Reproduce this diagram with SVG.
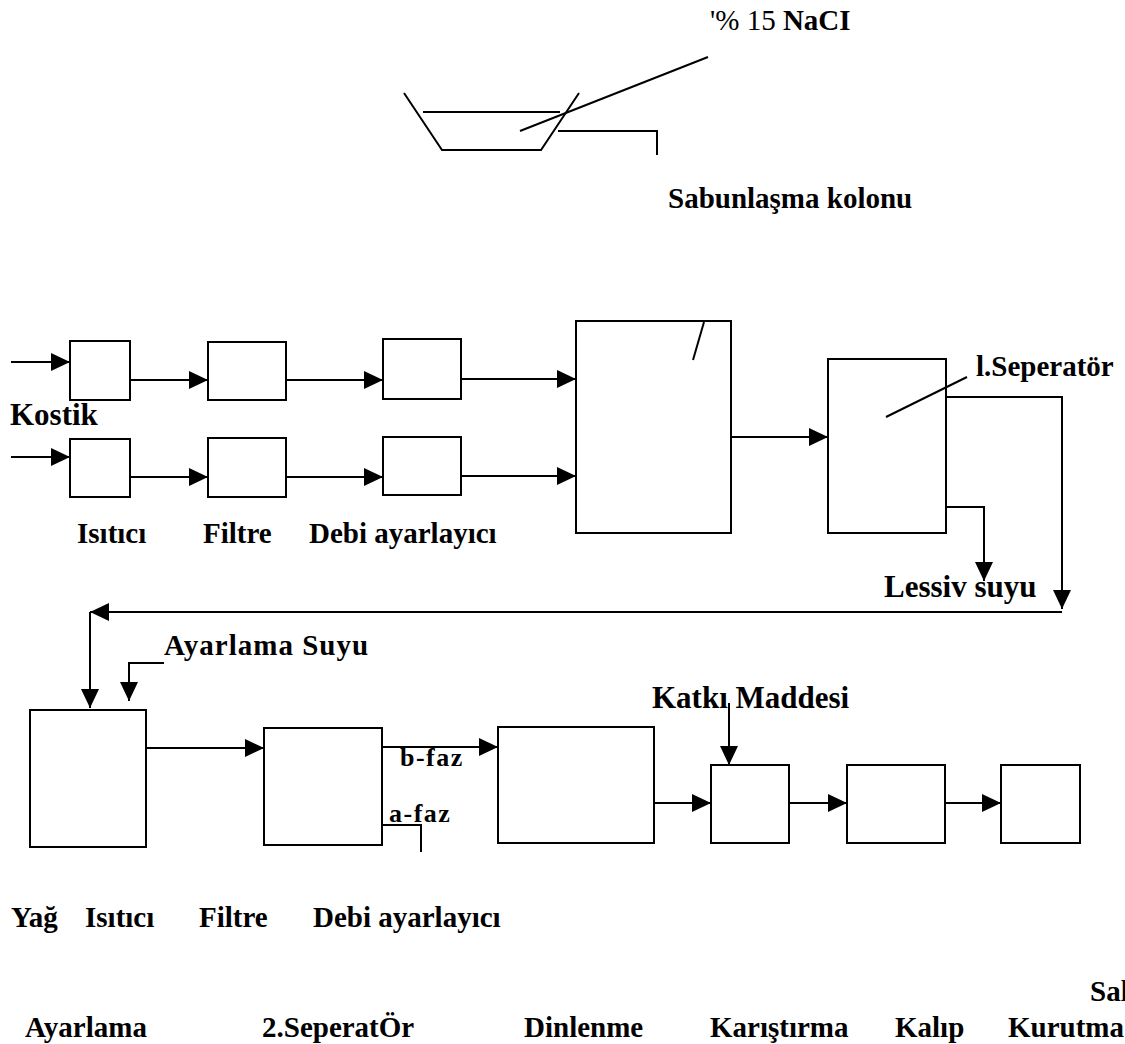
<svg xmlns="http://www.w3.org/2000/svg" width="1125" height="1044" viewBox="0 0 1125 1044">
<style>
.b{fill:#fff;stroke:#000;stroke-width:2}
.c{fill:none;stroke:#000;stroke-width:2}
.t{font-family:"Liberation Serif","Times New Roman",serif;font-weight:bold;font-size:29px;fill:#000}
.r{font-weight:normal}
.s{font-size:26px;letter-spacing:1.5px}
</style>
<defs>
<marker id="ah" markerUnits="userSpaceOnUse" markerWidth="20" markerHeight="20" viewBox="0 0 20 20" refX="19" refY="10" orient="auto">
<path d="M0,1 L19,10 L0,19 z" fill="#000"/>
</marker>
</defs>
<rect width="1125" height="1044" fill="#fff"/>

<g id="column-top">
<polyline class="c" points="404,93 442,150 541,150 579,93"/>
<line class="c" x1="423" y1="112" x2="560" y2="112"/>
<line class="c" x1="520" y1="131" x2="708" y2="57"/>
<polyline class="c" points="558,131 657,131 657,155"/>
<text class="t" x="710" y="30"><tspan class="r">'% 15 </tspan>NaCI</text>
<text class="t" x="668" y="208">Sabunlaşma kolonu</text>
</g>

<g id="heater1"><rect class="b" x="70" y="341" width="60" height="59"/></g>
<g id="filter1"><rect class="b" x="208" y="342" width="78" height="58"/></g>
<g id="flow1"><rect class="b" x="383" y="339" width="78" height="60"/></g>
<g id="heater2"><rect class="b" x="70" y="439" width="60" height="58"/></g>
<g id="filter2"><rect class="b" x="208" y="438" width="78" height="59"/></g>
<g id="flow2"><rect class="b" x="383" y="437" width="78" height="58"/></g>
<g id="column"><rect class="b" x="576" y="321" width="155" height="212"/>
<line class="c" x1="704" y1="322" x2="693" y2="360"/></g>
<g id="separator1"><rect class="b" x="828" y="359" width="118" height="174"/>
<line class="c" x1="886" y1="417" x2="967" y2="377"/></g>
<g id="adjust"><rect class="b" x="30" y="710" width="116" height="137"/></g>
<g id="separator2"><rect class="b" x="264" y="728" width="118" height="117"/></g>
<g id="rest"><rect class="b" x="498" y="727" width="156" height="116"/></g>
<g id="mixer"><rect class="b" x="711" y="765" width="78" height="78"/></g>
<g id="mould"><rect class="b" x="847" y="765" width="98" height="78"/></g>
<g id="dryer"><rect class="b" x="1001" y="765" width="79" height="78"/></g>

<g id="connectors">
<path class="c" d="M11,362 H70" marker-end="url(#ah)"/>
<path class="c" d="M130,380 H208" marker-end="url(#ah)"/>
<path class="c" d="M286,380 H383" marker-end="url(#ah)"/>
<path class="c" d="M461,379 H576" marker-end="url(#ah)"/>
<path class="c" d="M11,457 H70" marker-end="url(#ah)"/>
<path class="c" d="M130,477 H208" marker-end="url(#ah)"/>
<path class="c" d="M286,477 H383" marker-end="url(#ah)"/>
<path class="c" d="M461,476 H576" marker-end="url(#ah)"/>
<path class="c" d="M731,437 H828" marker-end="url(#ah)"/>
<path class="c" d="M946,397 H1062 V609" marker-end="url(#ah)"/>
<path class="c" d="M946,507 H984 V581" marker-end="url(#ah)"/>
<path class="c" d="M1062,612 H90" marker-end="url(#ah)"/>
<path class="c" d="M90,612 V708" marker-end="url(#ah)"/>
<path class="c" d="M164,663 H129 V701" marker-end="url(#ah)"/>
<path class="c" d="M146,748 H264" marker-end="url(#ah)"/>
<path class="c" d="M382,747 H498" marker-end="url(#ah)"/>
<path class="c" d="M382,825 H421 V852"/>
<path class="c" d="M729,703 V765" marker-end="url(#ah)"/>
<path class="c" d="M654,803 H711" marker-end="url(#ah)"/>
<path class="c" d="M789,803 H847" marker-end="url(#ah)"/>
<path class="c" d="M945,803 H1001" marker-end="url(#ah)"/>
</g>

<g id="labels">
<text class="t" x="976" y="376">l.Seperatör</text>
<text class="t" x="10" y="425" style="font-size:31px">Kostik</text>
<text class="t" x="77" y="543">Isıtıcı</text>
<text class="t" x="203" y="543">Filtre</text>
<text class="t" x="309" y="543">Debi ayarlayıcı</text>
<text class="t" x="884" y="597" style="font-size:31px">Lessiv suyu</text>
<text class="t" x="164" y="655" style="letter-spacing:1px">Ayarlama Suyu</text>
<text class="t s" x="400" y="766">b-faz</text>
<text class="t s" x="389" y="822">a-faz</text>
<text class="t" x="652" y="708" style="font-size:31px">Katkı Maddesi</text>
<text class="t" x="11" y="927">Yağ</text>
<text class="t" x="85" y="927">Isıtıcı</text>
<text class="t" x="199" y="927">Filtre</text>
<text class="t" x="313" y="927">Debi ayarlayıcı</text>
<text class="t" x="1090" y="1001">Sal</text>
<text class="t" x="25" y="1037">Ayarlama</text>
<text class="t" x="262" y="1037">2.SeperatÖr</text>
<text class="t" x="524" y="1037">Dinlenme</text>
<text class="t" x="710" y="1037">Karıştırma</text>
<text class="t" x="895" y="1037">Kalıp</text>
<text class="t" x="1008" y="1037">Kurutma</text>
</g>
</svg>
